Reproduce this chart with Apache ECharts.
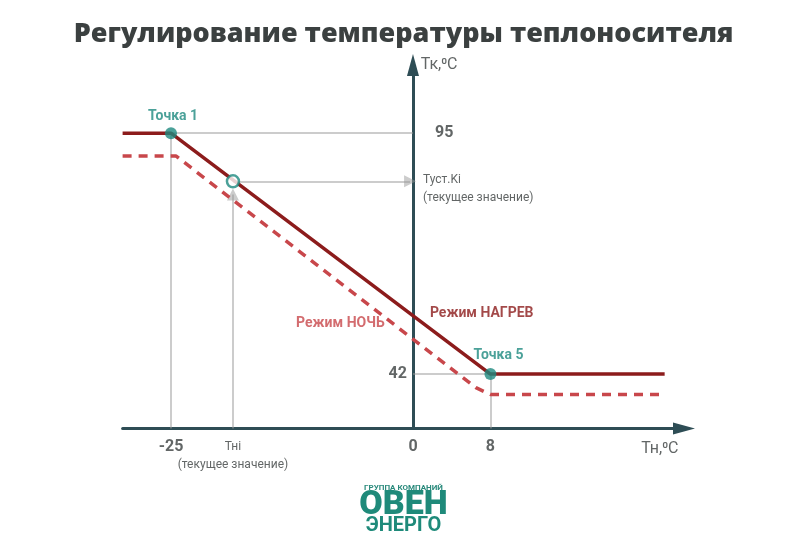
<!DOCTYPE html><html><head><meta charset="utf-8">
<script src="https://cdn.jsdelivr.net/npm/echarts@6/dist/echarts.min.js"></script>
<style>html,body{margin:0;background:#fff}#c{width:807px;height:554px}</style></head><body><div id="c"></div>
<script>
const heatLine=[[-30,95],[-25,95],[8,42],[26,42]];
const nightLine=[[-30,90],[-24.5,90],[6.5,39],[8,37.5],[26,37.5]];
const point1=[-25,95], point5=[8,42], pointCur=[-18.6,84.4];
const xTicks=[[-25,'-25'],[-18.6,'Тнi\n(текущее значение)'],[0,'0'],[8,'8']];
const yTicks=[[95,'95'],[84.4,'Туст.Ki\n(текущее значение)']];
const F="'Liberation Sans Narrow','Roboto',sans-serif";
const grey='#9a9a9a', axisC='#2e4d55', teal='#1e8a80';
const ch=echarts.init(document.getElementById('c'));
function seg(a,b,arrow){return {coords:[a,b],symbol:arrow?['none','triangle']:['none','none']};}
ch.setOption({
 animation:false,
 title:{text:'Регулирование температуры теплоносителя',left:'center',top:16,textStyle:{fontFamily:'Open Sans',fontWeight:800,fontSize:27,color:'#3b4040'}},
 grid:{left:122.6,right:123,top:65,bottom:125.4},
 xAxis:{type:'value',min:-30,max:28,splitLine:{show:false},axisTick:{show:false},axisLabel:{show:false},
   axisLine:{onZero:false,symbol:['none','triangle'],symbolSize:[12,22],lineStyle:{color:axisC,width:3}}},
 yAxis:{type:'value',min:30,max:110,splitLine:{show:false},axisTick:{show:false},axisLabel:{show:false},
   axisLine:{onZero:true,symbol:['none','triangle'],symbolSize:[12,22],lineStyle:{color:axisC,width:3}}},
 graphic:[
  {type:'text',left:'center',top:484,style:{text:'ГРУППА КОМПАНИЙ',font:'bold 8px Roboto',fill:'#2a8a7c'}},
  {type:'text',left:'center',top:488,style:{text:'ОВЕН',font:'900 34px Roboto',fill:'#1f8a7a'}},
  {type:'text',left:'center',top:516,style:{text:'ЭНЕРГО',font:'bold 20px Roboto',fill:'#1f8a7a'}}
 ],
 series:[
  {type:'lines',coordinateSystem:'cartesian2d',symbolSize:12,lineStyle:{color:grey,width:2},z:1,
   data:[seg([-25,30],point1),seg(point1,[0,95]),seg([-18.6,30],[-18.6,81.5],true),seg(pointCur,[-0.3,84.4],true),
         seg([0,42],point5),seg([8,30],point5)]},
  {type:'line',data:nightLine,symbol:'none',lineStyle:{color:'#c8474b',width:3.5,type:[9,7]},z:2},
  {type:'line',data:heatLine,symbol:'none',lineStyle:{color:'#8c1c1c',width:3.5},z:3},
  {type:'scatter',data:[point1,point5],symbolSize:12,itemStyle:{color:teal},z:5},
  {type:'scatter',data:[pointCur],symbolSize:12,itemStyle:{color:'#fff',borderColor:teal,borderWidth:2.5},z:5},
  {type:'scatter',symbolSize:0,silent:true,data:[
    {value:point1,label:{show:true,formatter:'Точка 1',position:'top',distance:10,offset:[2,0],color:teal,fontSize:14,fontWeight:'bold',fontFamily:F}},
    {value:point5,label:{show:true,formatter:'Точка 5',position:'top',distance:12,offset:[8,0],color:teal,fontSize:14,fontWeight:'bold',fontFamily:F}},
    {value:[-7.5,53.2],label:{show:true,formatter:'Режим НОЧЬ',position:'inside',color:'#c8474b',fontSize:14,fontWeight:'bold',fontFamily:F}},
    {value:[7.1,55.4],label:{show:true,formatter:'Режим НАГРЕВ',position:'inside',color:'#8c1c1c',fontSize:14,fontWeight:'bold',fontFamily:F}},
    {value:[2.7,110],label:{show:true,formatter:'Тк,⁰С',color:'#3b4040',fontSize:16,fontFamily:F,position:'inside'}},
    {value:[25.5,30],label:{show:true,formatter:'Тн,⁰С',color:'#3b4040',fontSize:16,fontFamily:F,position:'bottom',distance:12}}
  ]},
  {type:'scatter',symbolSize:0,silent:true,data:xTicks.map(t=>({value:[t[0],30],label:{show:true,formatter:t[1],position:'bottom',distance:9,color:'#3b4040',fontSize:t[1].length>3?12:16,lineHeight:18,fontFamily:F,fontWeight:t[1].length>3?'normal':'bold'}}))},
  {type:'scatter',symbolSize:0,silent:true,data:yTicks.map(t=>({value:[0,t[0]],label:{show:true,formatter:t[1],position:'right',distance:t[1].length>3?10:22,align:'left',offset:t[1].length>3?[0,8]:[0,0],color:'#3b4040',fontSize:t[1].length>3?12:16,lineHeight:18,fontFamily:F,fontWeight:t[1].length>3?'normal':'bold'}}))},
  {type:'scatter',symbolSize:0,silent:true,data:[{value:[0,42],label:{show:true,formatter:'42',position:'left',distance:6,color:'#3b4040',fontSize:16,fontWeight:'bold',fontFamily:F}}]}
 ]
});
</script></body></html>
